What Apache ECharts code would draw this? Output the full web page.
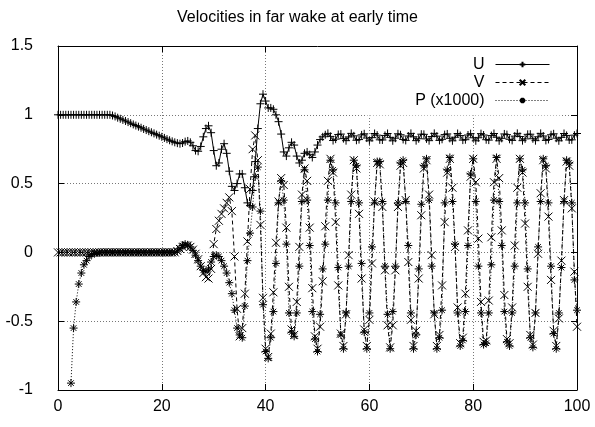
<!DOCTYPE html>
<html>
<head>
<meta charset="utf-8">
<script src="https://cdn.jsdelivr.net/npm/echarts@6/dist/echarts.min.js"></script>
<style>
  html, body { margin: 0; padding: 0; background: #fff; }
  #chart { width: 595px; height: 427px; }
</style>
</head>
<body>
<div id="chart"></div>
<script>
  // samples every 0.5 time units, t = 0 .. 100 ; one row = 5 time units
  const tStep = 0.5
  const xTicks = [0, 20, 40, 60, 80, 100]
  const yTicks = [-1, -0.5, 0, 0.5, 1, 1.5]

  const U = [
    1, 1, 1, 1, 1, 1, 1, 1, 1, 1,
    1, 1, 1, 1, 1, 1, 1, 1, 1, 1,
    1, 0.995, 0.988, 0.979, 0.971, 0.963, 0.955, 0.947, 0.939, 0.93,
    0.922, 0.914, 0.906, 0.897, 0.889, 0.881, 0.873, 0.865, 0.856, 0.848,
    0.84, 0.832, 0.823, 0.815, 0.807, 0.80, 0.794, 0.79, 0.795, 0.805,
    0.81, 0.80, 0.775, 0.74, 0.735, 0.77, 0.84, 0.90, 0.92, 0.87,
    0.74, 0.63, 0.65, 0.75, 0.79, 0.72, 0.59, 0.48, 0.45, 0.50,
    0.57, 0.57, 0.47, 0.36, 0.34, 0.45, 0.66, 0.90, 1.08, 1.15,
    1.10, 1.05, 1.05, 1.04, 1.0, 0.95, 0.86, 0.73, 0.70, 0.76,
    0.80, 0.78, 0.70, 0.65, 0.67, 0.72, 0.73, 0.71, 0.69, 0.73,
    0.78, 0.82, 0.84, 0.855, 0.865, 0.843, 0.813, 0.823, 0.857, 0.860,
    0.827, 0.812, 0.839, 0.865, 0.847, 0.815, 0.820, 0.854, 0.862, 0.831,
    0.811, 0.834, 0.864, 0.852, 0.818, 0.817, 0.850, 0.864, 0.836, 0.811,
    0.830, 0.862, 0.855, 0.821, 0.814, 0.846, 0.865, 0.840, 0.812, 0.826,
    0.859, 0.858, 0.825, 0.812, 0.842, 0.865, 0.845, 0.814, 0.822, 0.856,
    0.861, 0.829, 0.811, 0.837, 0.864, 0.849, 0.816, 0.819, 0.853, 0.863,
    0.833, 0.811, 0.833, 0.863, 0.853, 0.819, 0.816, 0.849, 0.864, 0.837,
    0.811, 0.829, 0.861, 0.856, 0.822, 0.814, 0.845, 0.865, 0.842, 0.812,
    0.825, 0.858, 0.859, 0.826, 0.812, 0.840, 0.865, 0.846, 0.814, 0.821,
    0.855, 0.862, 0.830, 0.811, 0.836, 0.864, 0.850, 0.817, 0.818, 0.852,
    0.864
  ]

  const V = [
    0, 0, 0, 0, 0, 0, 0, 0, 0, 0,
    0, 0, 0, 0, 0, 0, 0, 0, 0, 0,
    0, 0, 0, 0, 0, 0, 0, 0, 0, 0,
    0, 0, 0, 0, 0, 0, 0, 0, 0, 0,
    0, 0, 0, 0, 0, 0, 0.01, 0.025, 0.04, 0.05,
    0.05, 0.04, 0.02, -0.01, -0.05, -0.10, -0.15, -0.18, -0.19, -0.12,
    0.06, 0.17, 0.23, 0.28, 0.32, 0.36, 0.40, 0.30, -0.03, -0.41,
    -0.61, -0.55, -0.30, 0.08, 0.46, 0.75, 0.85, 0.67, 0.20, -0.33,
    -0.70, -0.76, -0.59, -0.29, 0.07, 0.37, 0.54, 0.49, 0.18, -0.25,
    -0.56, -0.60, -0.36, 0.04, 0.42, 0.61, 0.52, 0.18, -0.26, -0.61,
    -0.70, -0.54, -0.21, 0.19, 0.52, 0.68, 0.58, 0.22, -0.24, -0.59,
    -0.68, -0.45, -0.02, 0.42, 0.67, 0.61, 0.28, -0.19, -0.56, -0.68,
    -0.49, -0.08, 0.37, 0.65, 0.64, 0.33, -0.13, -0.53, -0.69, -0.53,
    -0.13, 0.33, 0.63, 0.65, 0.38, -0.07, -0.49, -0.68, -0.57, -0.19,
    0.27, 0.61, 0.67, 0.42, -0.02, -0.45, -0.68, -0.60, -0.24, 0.22,
    0.58, 0.68, 0.47, 0.04, -0.40, -0.66, -0.62, -0.30, 0.16, 0.55,
    0.68, 0.51, 0.10, -0.36, -0.65, -0.64, -0.35, 0.11, 0.51, 0.68,
    0.54, 0.16, -0.31, -0.63, -0.66, -0.40, 0.05, 0.47, 0.68, 0.58,
    0.21, -0.25, -0.60, -0.67, -0.44, -0.01, 0.43, 0.67, 0.61, 0.26,
    -0.20, -0.57, -0.68, -0.48, -0.06, 0.38, 0.66, 0.63, 0.32, -0.14,
    -0.54
  ]

  // P (x1000): below -1 before t = 2.5
  const P = [
    null, null, null, null, null, -0.95, -0.55, -0.36, -0.23, -0.15,
    -0.09, -0.06, -0.03, -0.015, -0.008, -0.004, -0.002, 0, 0, 0,
    0, 0, 0, 0, 0, 0, 0, 0, 0, 0,
    0, 0, 0, 0, 0, 0, 0, 0, 0, 0,
    0, 0, 0, 0, 0, 0, 0.01, 0.03, 0.05, 0.06,
    0.055, 0.04, 0.015, -0.02, -0.06, -0.10, -0.13, -0.14, -0.12, -0.07,
    -0.03, -0.02, -0.03, -0.06, -0.10, -0.15, -0.22, -0.30, -0.42, -0.55,
    -0.60, -0.62, -0.39, -0.06, 0.14, 0.33, 0.55, 0.62, 0.30, -0.38,
    -0.72, -0.77, -0.62, -0.43, -0.08, 0.36, 0.52, 0.38, 0.06, -0.44,
    -0.58, -0.61, -0.44, -0.10, 0.37, 0.60, 0.38, 0.05, -0.43, -0.63,
    -0.72, -0.45, -0.12, 0.06, 0.38, 0.67, 0.60, 0.36, -0.11, -0.60,
    -0.70, -0.44, -0.10, 0.37, 0.67, 0.63, 0.36, -0.08, -0.58, -0.70,
    -0.44, 0.04, 0.36, 0.66, 0.66, 0.37, -0.10, -0.45, -0.70, -0.43,
    -0.10, 0.36, 0.65, 0.67, 0.37, 0.05, -0.44, -0.70, -0.60, -0.12,
    0.35, 0.63, 0.68, 0.38, -0.10, -0.44, -0.70, -0.62, -0.42, 0.36,
    0.60, 0.69, 0.37, 0.06, -0.44, -0.68, -0.64, -0.43, 0.05, 0.57,
    0.68, 0.37, -0.10, -0.44, -0.67, -0.66, -0.44, -0.09, 0.38, 0.69,
    0.37, 0.05, -0.43, -0.65, -0.68, -0.44, -0.10, 0.36, 0.68, 0.60,
    0.36, -0.12, -0.62, -0.69, -0.44, 0.04, 0.37, 0.68, 0.63, 0.36,
    -0.10, -0.59, -0.70, -0.44, -0.11, 0.37, 0.67, 0.65, 0.36, -0.20,
    -0.42
  ]

  const names = ['U', 'V', 'P (x1000)']

  const pairs = (arr) => {
    let out = []
    arr.forEach((v, i) => { if (v !== null) out.push([i * tStep, v]) })
    return out
  }

  const plus = 'path://M0,5L10,5M5,0L5,10'
  const cross = 'path://M1,1L9,9M9,1L1,9'
  const star = 'path://M0,5L10,5M5,0L5,10M1.5,1.5L8.5,8.5M8.5,1.5L1.5,8.5'

  const mkSeries = (name, arr, sym, dash) => ({
    name: name,
    type: 'line',
    data: pairs(arr),
    symbol: sym,
    symbolSize: 8,
    showSymbol: true,
    showAllSymbol: true,
    itemStyle: { color: 'none', borderColor: '#000', borderWidth: 1 },
    lineStyle: { color: '#000', width: 1, type: dash },
    emphasis: { disabled: true }
  })

  let chart = echarts.init(document.getElementById('chart'), null, { renderer: 'canvas' })
  let font = "'Liberation Sans', Arial, sans-serif"

  let option = {
    animation: false,
    textStyle: { fontFamily: font },
    title: {
      text: 'Velocities in far wake at early time',
      left: 'center',
      top: 5,
      textStyle: { fontSize: 16, fontWeight: 'normal', color: '#000', fontFamily: font }
    },
    legend: {
      data: names,
      orient: 'vertical',
      right: 40,
      top: 51,
      align: 'right',
      itemWidth: 54,
      itemHeight: 7,
      itemGap: 1,
      selectedMode: false,
      lineStyle: { width: 1 },
      textStyle: { fontSize: 16, color: '#000', lineHeight: 17, padding: [0, 6, 0, 0], fontFamily: font }
    },
    grid: { left: 58, right: 18, top: 46, bottom: 37 },
    graphic: [{
      // gnuplot clears the grid behind the key
      type: 'rect', z: 1,
      shape: { x: 366, y: 47, width: 196, height: 68.5 },
      style: { fill: '#fff' }
    }],
    xAxis: [{
      type: 'value', min: xTicks[0], max: xTicks[xTicks.length - 1], interval: 20,
      axisLine: { onZero: false, lineStyle: { color: '#000', width: 1 } },
      axisTick: { inside: true, length: 6, lineStyle: { color: '#000' } },
      axisLabel: { color: '#000', fontSize: 16, margin: 9, fontFamily: font },
      splitLine: { show: true, lineStyle: { color: '#777', width: 1, type: [1, 2] } }
    }, {
      type: 'value', position: 'top', min: 0, max: 100, interval: 20,
      axisLine: { show: true, onZero: false, lineStyle: { color: '#000', width: 1 } },
      axisTick: { inside: true, length: 6, lineStyle: { color: '#000' } },
      axisLabel: { show: false },
      splitLine: { show: false }
    }],
    yAxis: [{
      type: 'value', min: yTicks[0], max: yTicks[yTicks.length - 1], interval: 0.5,
      axisLine: { show: true, onZero: false, lineStyle: { color: '#000', width: 1 } },
      axisTick: { show: true, inside: true, length: 6, lineStyle: { color: '#000' } },
      axisLabel: { color: '#000', fontSize: 16, margin: 25, fontFamily: font },
      splitLine: { show: true, lineStyle: { color: '#777', width: 1, type: [1, 2] } }
    }, {
      type: 'value', position: 'right', min: -1, max: 1.5, interval: 0.5,
      axisLine: { show: true, onZero: false, lineStyle: { color: '#000', width: 1 } },
      axisTick: { show: true, inside: true, length: 6, lineStyle: { color: '#000' } },
      axisLabel: { show: false },
      splitLine: { show: false }
    }],
    series: [
      mkSeries(names[0], U, plus, 'solid'),
      mkSeries(names[1], V, cross, [4, 3]),
      mkSeries(names[2], P, star, [1, 2])
    ]
  }
  chart.setOption(option)
</script>
</body>
</html>
